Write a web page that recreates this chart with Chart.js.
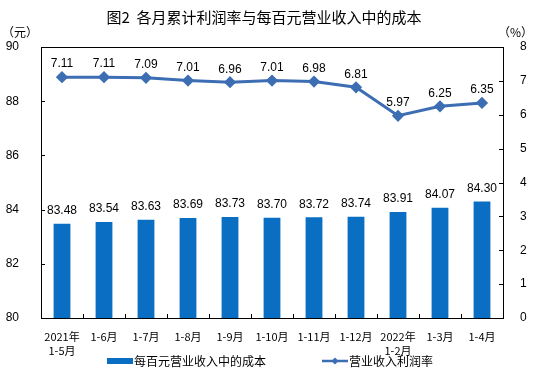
<!DOCTYPE html>
<html><head><meta charset="utf-8">
<script src="https://cdn.jsdelivr.net/npm/chart.js@4/dist/chart.umd.min.js"></script>
<style>html,body{margin:0;padding:0;background:#fff}#wrap{width:533px;height:379px}</style>
</head><body><div id="wrap"><canvas id="c" width="533" height="379"></canvas></div>
<script>
const categories = [["2021年","1-5月"],"1-6月","1-7月","1-8月","1-9月","1-10月","1-11月","1-12月",["2022年","1-2月"],"1-3月","1-4月"];
const costPer100 = [83.48,83.54,83.63,83.69,83.73,83.70,83.72,83.74,83.91,84.07,84.30];
const profitRate = [7.11,7.11,7.09,7.01,6.96,7.01,6.98,6.81,5.97,6.25,6.35];
const leftTicks = [80,82,84,86,88,90];
const rightTicks = [0,1,2,3,4,5,6,7,8];
const seriesNames = ["每百元营业收入中的成本","营业收入利润率"];
const titleText = "图2  各月累计利润率与每百元营业收入中的成本";

const BAR = '#0A6FC2', LINE = '#3D6DB3';
const NUM = '"Liberation Sans", Arial, sans-serif';
const CJK = '"Noto Sans CJK SC", "Liberation Sans", sans-serif';

const deco = {
  id:'deco',
  afterDraw(chart){
    const ctx = chart.ctx, a = chart.chartArea;
    const y = chart.scales.y, y1 = chart.scales.y1;
    ctx.save();
    ctx.strokeStyle = '#000'; ctx.lineWidth = 1;
    ctx.strokeRect(Math.round(a.left)+0.5, Math.round(a.top)+0.5, Math.round(a.right-a.left), Math.round(a.bottom-a.top));
    ctx.beginPath();
    leftTicks.forEach(v=>{const py=Math.round(y.getPixelForValue(v))+0.5; ctx.moveTo(a.left,py); ctx.lineTo(a.left+4,py);});
    rightTicks.forEach(v=>{const py=Math.round(y1.getPixelForValue(v))+0.5; ctx.moveTo(a.right,py); ctx.lineTo(a.right-4,py);});
    for(let i=1;i<categories.length;i++){const px=Math.round(a.left+(a.right-a.left)*i/categories.length)+0.5; ctx.moveTo(px,a.bottom); ctx.lineTo(px,a.bottom-4);}
    ctx.stroke();
    ctx.fillStyle='#000'; ctx.textAlign='center'; ctx.textBaseline='middle';
    ctx.font = '400 15px '+CJK;
    ctx.fillText(titleText, 264, 17);
    ctx.font = '12px '+CJK;
    ctx.textAlign='left'; ctx.fillText('（元）', 2, 32);
    ctx.textAlign='right'; ctx.fillText('（%）', 533, 32);
    ctx.font = '12px '+NUM; ctx.textAlign='center';
    chart.getDatasetMeta(1).data.forEach((el,i)=>{ ctx.fillText(costPer100[i].toFixed(2), el.x, el.y-13); });
    chart.getDatasetMeta(0).data.forEach((el,i)=>{ ctx.fillText(profitRate[i].toFixed(2), el.x, el.y-13); });
    ctx.fillStyle = BAR; ctx.fillRect(107, 358, 26, 6);
    ctx.fillStyle='#000'; ctx.font='12px '+CJK; ctx.textAlign='left';
    ctx.fillText(seriesNames[0], 134, 361);
    ctx.strokeStyle = LINE; ctx.lineWidth = 2.5; ctx.beginPath(); ctx.moveTo(322,361); ctx.lineTo(348,361); ctx.stroke();
    ctx.fillStyle = LINE; ctx.beginPath(); ctx.moveTo(335,357.5); ctx.lineTo(338.5,361); ctx.lineTo(335,364.5); ctx.lineTo(331.5,361); ctx.closePath(); ctx.fill();
    ctx.fillStyle='#000'; ctx.fillText(seriesNames[1], 349, 361);
    ctx.restore();
  }
};

new Chart(document.getElementById('c'), {
  data:{
    labels: categories,
    datasets:[
      {type:'line', label:seriesNames[1], data:profitRate, yAxisID:'y1', borderColor:LINE, backgroundColor:LINE, borderWidth:3,
       pointStyle:'rectRot', pointRadius:4, pointBackgroundColor:LINE, pointBorderColor:LINE, tension:0, order:0},
      {type:'bar', label:seriesNames[0], data:costPer100, yAxisID:'y', backgroundColor:BAR, categoryPercentage:1, barPercentage:0.4, order:1}
    ]
  },
  options:{
    responsive:false, animation:false,
    layout:{padding:{top:47,left:0,right:0,bottom:0}},
    plugins:{legend:{display:false}, title:{display:false}, tooltip:{enabled:false}},
    scales:{
      x:{grid:{display:false}, border:{display:false},
         ticks:{color:'#000', font:{family:CJK, size:11, lineHeight:1.25}, padding:4, maxRotation:0, autoSkip:false},
         afterFit(s){s.height=61;}},
      y:{position:'left', min:80, max:90, grid:{display:false}, border:{display:false},
         ticks:{stepSize:2, color:'#000', font:{family:NUM, size:12}, padding:14},
         afterFit(s){s.width=41;}},
      y1:{position:'right', min:0, max:8, grid:{display:false}, border:{display:false},
         ticks:{stepSize:1, color:'#000', font:{family:NUM, size:12}, padding:9},
         afterFit(s){s.width=30;}}
    }
  },
  plugins:[deco]
});
</script></body></html>
